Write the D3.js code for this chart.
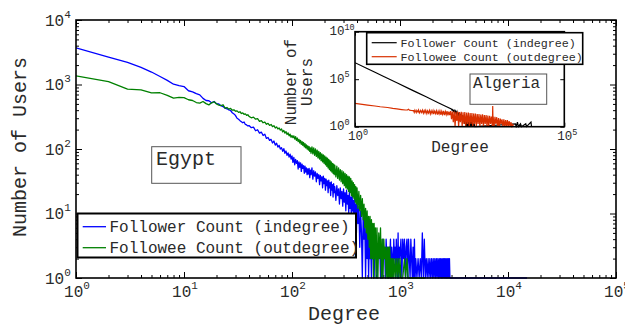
<!DOCTYPE html>
<html><head><meta charset="utf-8">
<script src="https://cdn.jsdelivr.net/npm/d3@7"></script>
<style>body{margin:0;background:#fff}svg{display:block}text{font-family:"Liberation Mono","Courier New",monospace;fill:#2a2a2a}</style>
</head><body>
<svg id="c" width="625" height="324"></svg>
<script>
// ---------- DATA ----------
const seriesNames = ["Follower Count (indegree)", "Followee Count (outdegree)"];
const mainXExp = [0,1,2,3,4,5];
const mainYExp = [0,1,2,3,4];
const insetXExp = [0,5];
const insetYExp = [0,5,10];
const mainTitle = "Egypt";
const insetTitle = "Algeria";

// Egypt follower (indegree): [degree, users]
const egyptFollower = [
[1,3700],[2,2650],[3,2200],[4,1840],[5,1560],[6,1330],[7,1160],[8,1010],[9,960],[10,930],[11,800],[12,770],[13,720],[14,690],[15,610],[16,565],[17,560],[18,520],[19,545],[20,505],[21,500],[22,470],[23,455],[24,430],[25,420],[26,405],[27,395],[28,365],[29,350],[30,330],[31,300],[32,290],[33,275],[34,265],[35,255],[36,262],[37,240],[38,236],[39,228],[40,231],
[42,214],[44,218],[46,192],[48,199],[50,176],[52,183],[54,162],[56,170],[58,146],[60,151],[62,136],[64,141],[66,124],[68,133],[70,115],[72,123],[74,107],[76,114],[78,100],[80,105],[82,92],[84,101],[86,86],[88,93],[90,80],[92,87],[94,75],[96,83],[98,70],[100,78],
[102,62],[104,74],[106,57],[108,69],[110,60],[112,66],[114,49],[116,63],[118,52],[120,61],[122,45],[124,58],[126,50],[128,55],[130,42],[132,54],[134,44],[136,51],[138,40],[140,49],[142,41],[144,50],[146,36],[148,47],[150,40],
[153,51],[156,34],[159,46],[162,38],[165,44],[168,31],[171,42],[174,35],[177,40],[180,28],[183,39],[186,32],[189,37],[192,25],[195,38],[198,29],[201,35],[204,23],[207,34],[210,27],[213,32],[216,21],[219,33],[222,25],[225,30],[228,19],[231,31],[234,23],[237,28],[240,18],[243,29],[246,21],[249,26],
[255,16],[260,27],[265,19],[270,24],[275,14],[280,25],[285,17],[290,22],[295,13],[300,24],[305,15],[310,21],[315,11],[320,23],[325,14],[330,19],[335,10],[340,22],[345,12],[350,18],[355,8],[360,20],[365,11],[370,16],[375,7],[380,17],[385,9],[390,14],[395,5],[400,16],
[408,7],[416,13],[424,3],[432,11],[440,5],[448,1],[456,10],[464,4],[472,8],[480,1],[488,6],[496,2],[504,5],[512,1],[520,4],[528,2],[536,3],[544,1],[552,4],[560,2],[568,5],[576,1],[584,3],[592,2],[600,4],
[612,1],[624,3],[636,2],[648,4],[660,1],[672,3],[684,1],[696,4],[708,2],[720,3],[732,1],[744,4],[756,2],[768,3],[780,1],[792,3],[804,2],[816,4],[828,1],[840,3],[852,2],[864,1],[876,4],[888,2],[900,3],[912,1],[924,4],[936,2],[948,1],[960,5],[972,1],[984,3],[996,2],
[1020,4],[1040,1],[1060,4],[1080,2],[1100,4],[1120,1],[1140,3],[1160,4],[1180,1],[1200,4],[1220,2],[1240,1],[1260,4],[1280,2],[1300,1],[1320,3],[1340,1],[1360,4],[1380,1],[1400,2],
[1435,1],[1470,2],[1505,1],[1540,2],[1575,1],[1610,5],[1645,1],[1680,4],[1715,1],[1750,2],[1785,1],[1820,2],[1855,1],[1890,2],[1925,1],[1960,2],[1995,1],[2030,2],[2065,1],[2100,2],[2135,1],[2170,2],[2205,1],[2240,2],[2275,1],[2310,2],[2345,1],[2380,2],[2415,1],[2450,2],[2485,1],[2520,2],[2555,1],[2590,2],[2625,1],[2660,2],[2695,1],[2730,2],[2765,1],[2800,2],[2835,1],[2870,2],[2900,1],[3500,1],[5200,1],[9000,1],[15000,1]
];

// Egypt followee (outdegree)
const egyptFollowee = [
[1,1360],[2,1110],[3,850],[4,826],[5,740],[6,745],[7,680],[8,614],[9,630],[10,625],[11,580],[12,565],[13,525],[14,514],[15,545],[16,505],[17,483],[18,520],[19,540],[20,500],[21,480],[22,470],[23,485],[24,430],[25,440],[26,415],[27,425],[28,400],[29,405],[30,385],[31,390],[32,370],[33,378],[34,355],[35,362],[36,345],[37,350],[38,332],[39,340],[40,320],
[42,305],[44,312],[46,290],[48,296],[50,268],[52,276],[54,255],[56,262],[58,242],[60,250],[62,232],[64,240],[66,222],[68,230],[70,212],[72,220],[74,204],[76,212],[78,196],[80,204],[82,184],[84,194],[86,176],[88,186],[90,168],[92,178],[94,160],[96,170],[98,152],[100,162],
[102,150],[104,160],[106,142],[108,155],[110,136],[112,148],[114,130],[116,141],[118,124],[120,136],[122,118],[124,130],[126,114],[128,126],[130,108],[132,121],[134,104],[136,116],[138,100],[140,112],[142,96],[144,109],[146,92],[148,104],[150,86],
[153,108],[156,84],[159,104],[162,80],[165,100],[168,77],[171,96],[174,73],[177,92],[180,70],[183,88],[186,66],[189,84],[192,63],[195,81],[198,60],[201,78],[204,57],[207,75],[210,54],[213,72],[216,51],[219,69],[222,48],[225,66],[228,46],[231,63],[234,44],[237,60],[240,42],[243,58],[246,40],[249,56],
[255,37],[260,54],[265,35],[270,51],[275,33],[280,48],[285,31],[290,46],[295,29],[300,44],[305,27],[310,42],[315,25],[320,40],[325,24],[330,38],[335,22],[340,37],[345,21],[350,35],[355,19],[360,32],[365,18],[370,30],[375,17],[380,28],[385,15],[390,26],[395,14],[400,25],
[408,12],[416,22],[424,11],[432,19],[440,9],[448,17],[456,8],[464,14],[472,6],[480,12],[488,5],[496,11],[504,4],[512,9],[520,3],[528,9],[536,2],[544,8],[552,2],[560,7],[568,1],[576,7],[584,2],[592,6],[600,1],
[612,6],[624,1],[636,5],[648,2],[660,6],[672,1],[684,4],[696,1],[708,4],[720,2],[732,3],[744,1],[756,3],[768,1],[780,3],[792,1],[804,3],[816,1],[828,2],[840,1],[852,2],[864,1],[880,2],[900,1],[920,2],[940,1],[960,2],[980,1],[1000,2],[1020,1],[1060,1],[1100,2],[1130,1],[1160,2],[1190,1],[1300,1],[1450,1],[1700,1]
];

// Algeria follower (indegree)
const algeriaFollower = [
[1,5.5e6],[2,1.26e6],[3,5.4e5],[5,1.8e5],[10,4.2e4],[20,9600],[30,4100],[50,1400],[100,316],[150,135],[200,73],
[208,55],[216,64],[225,40],[234,52],[243,30],[253,44],[263,22],[273,36],[284,15],[296,30],[308,11],[320,24],[333,8],[346,20],[360,5],[374,16],[389,3],[405,13],[421,2],[438,10],[455,1],[474,8],[493,1],[512,6],[533,1],[554,5],[576,1],[599,4],[623,1],[648,3],[674,1],[701,2],[729,1],[760,1],
[6800,2],[7100,1],[7600,3],[8000,1],[9000,2],[9500,1],[12000,2],[12500,1],[16000,3],[16500,1]
];

// Algeria followee (outdegree)
const algeriaFollowee = [
[1,290],[2,190],[3,150],[4,125],[6,105],[8,85],[10,75],[13,64],[16,57],[18,60],[19,70],[20,55],[22,52],[24,50],
[25,50],[26,32],[27,56],[29,30],[30,52],[32,34],[33,57],[35,28],[37,50],[39,31],[41,55],[43,26],[45,49],[47,29],[49,54],[52,24],[54,47],[57,27],[60,52],[63,22],[66,46],[69,25],[73,50],[76,21],[80,44],[84,24],[88,48],[93,19],[97,42],[102,22],[107,47],[113,18],[118,41],[124,20],[130,45],[137,17],[144,40],[151,19],[158,44],[166,16],[175,38],[183,17],[193,43],[202,6],[212,40],[223,3],[234,41],[246,1],[258,36],[271,4],[284,39],[299,1],[314,34],[329,3],[346,37],[363,1],[381,32],[400,2],[420,35],[441,1],[463,30],[486,2],[511,31],[536,1],[563,27],[591,2],[621,28],[652,1],[684,25],[719,2],[755,24],[792,1],[832,22],[873,2],[917,21],[963,1],[1011,19],[1061,2],[1114,20],[1170,1],[1229,17],[1290,2],[1355,17],[1422,1],[1493,15],[1568,1],[1647,14],[1729,2],[1815,12],[1906,1],[1950,150],[1990,1],[2001,12],[2101,1],[2206,11],[2316,2],[2432,10],[2554,1],[2681,8],[2815,1],[2956,7],[3104,2],[3259,6],[3422,1],[3593,6],[3773,1],[3962,5],[4160,1],[4368,5],[4586,1],[4815,4],[5056,1],[5309,3],[5600,1],[5900,2],[6000,1]
];

// ---------- DRAW ----------
const svg = d3.select("#c");
const P = {l:76, r:616, t:20, b:278};
const x = d3.scaleLog().domain([1,1e5]).range([P.l,P.r]);
const y = d3.scaleLog().domain([1,1e4]).range([P.b,P.t]);

function minorVals(lo, hi){ const v=[]; for(let e=lo;e<hi;e++) for(let k=2;k<10;k++) v.push(k*Math.pow(10,e)); return v; }
function tickAxis(gen, scale, vals, len, tr){
  svg.append("g").attr("transform", tr)
    .call(gen(scale).tickValues(vals).tickSizeInner(-len).tickSizeOuter(0).tickFormat(""))
    .call(g=>g.select(".domain").remove())
    .selectAll("line").attr("stroke","#000").attr("stroke-width",1);
}
function powText(g, px, py, exp, fs, sfs, anchor, dy){
  const t = g.append("text").attr("x",px).attr("y",py).attr("font-size",fs).attr("text-anchor",anchor);
  t.append("tspan").text("10");
  t.append("tspan").attr("font-size",sfs).attr("dy",dy).text(exp);
  return t;
}

// main ticks
const xMaj = mainXExp.map(e=>Math.pow(10,e)), yMaj = mainYExp.map(e=>Math.pow(10,e));
const xMin = minorVals(0,5), yMin = minorVals(0,4);
[[d3.axisBottom,`translate(0,${P.b})`],[d3.axisTop,`translate(0,${P.t})`]].forEach(([gen,tr])=>{
  tickAxis(gen,x,xMin,3,tr); tickAxis(gen,x,xMaj,6,tr);
});
[[d3.axisLeft,`translate(${P.l},0)`],[d3.axisRight,`translate(${P.r},0)`]].forEach(([gen,tr])=>{
  tickAxis(gen,y,yMin,3,tr); tickAxis(gen,y,yMaj,6,tr);
});

// data lines (main)
svg.append("clipPath").attr("id","clipMain").append("rect")
  .attr("x",P.l).attr("y",P.t-1).attr("width",P.r-P.l).attr("height",P.b-P.t+2);
const line = d3.line().x(d=>x(d[0])).y(d=>y(d[1]));
const gl = svg.append("g").attr("clip-path","url(#clipMain)");
gl.append("path").datum(egyptFollower).attr("d",line).attr("fill","none").attr("stroke","#0000ff").attr("stroke-width",1.3).attr("stroke-linejoin","round");
gl.append("path").datum(egyptFollowee).attr("d",line).attr("fill","none").attr("stroke","#008000").attr("stroke-width",1.3).attr("stroke-linejoin","round");

// frame
svg.append("rect").attr("x",P.l).attr("y",P.t).attr("width",P.r-P.l).attr("height",P.b-P.t)
  .attr("fill","none").attr("stroke","#000").attr("stroke-width",1.6);

// tick labels main
const gt = svg.append("g");
mainXExp.forEach(e=>powText(gt, x(Math.pow(10,e))+1, 297, e, 16, 11, "middle", -8));
mainYExp.forEach(e=>powText(gt, 45, y(Math.pow(10,e))+5.5, e, 16, 11, "start", -8));

// axis labels
svg.append("text").attr("x",344).attr("y",319.5).attr("font-size",20).attr("text-anchor","middle").text("Degree");
svg.append("text").attr("transform","translate(25.5,147) rotate(-90)").attr("font-size",20).attr("text-anchor","middle").text("Number of Users");

// main legend
const lg = svg.append("g");
lg.append("rect").attr("x",77.5).attr("y",213.5).attr("width",278.5).attr("height",44).attr("fill","#fff").attr("stroke","#000").attr("stroke-width",2);
[["#0000ff",226.7],["#008000",247.7]].forEach(([c,yy],i)=>{
  lg.append("line").attr("x1",82.7).attr("x2",106).attr("y1",yy).attr("y2",yy).attr("stroke",c).attr("stroke-width",1.3);
  lg.append("text").attr("x",109.5).attr("y",yy+4.8).attr("font-size",16).text(seriesNames[i]);
});

// Egypt box
svg.append("rect").attr("x",151.7).attr("y",146.7).attr("width",89.3).attr("height",36.6).attr("fill","#fff").attr("stroke","#555").attr("stroke-width",1);
svg.append("text").attr("x",156).attr("y",165).attr("font-size",20).text(mainTitle);

// ---------- INSET ----------
const I = {l:355, r:564.3, t:31.7, b:126.7};
const ix = d3.scaleLog().domain([1,1e5]).range([I.l,I.r]);
const iy = d3.scaleLog().domain([1,1e10]).range([I.b,I.t]);
svg.append("rect").attr("x",I.l).attr("y",I.t).attr("width",I.r-I.l).attr("height",I.b-I.t).attr("fill","#fff");
svg.append("clipPath").attr("id","clipInset").append("rect")
  .attr("x",I.l).attr("y",I.t).attr("width",I.r-I.l).attr("height",I.b-I.t+1);
const iline = d3.line().x(d=>ix(d[0])).y(d=>iy(d[1]));
const gi = svg.append("g").attr("clip-path","url(#clipInset)");
gi.append("path").datum(algeriaFollower).attr("d",iline).attr("fill","none").attr("stroke","#000").attr("stroke-width",1.2);
gi.append("path").datum(algeriaFollowee).attr("d",iline).attr("fill","none").attr("stroke","#d93000").attr("stroke-width",1.2);
// inset ticks
const iyMaj = insetYExp.map(e=>Math.pow(10,e)), ixMaj = insetXExp.map(e=>Math.pow(10,e));
tickAxis(d3.axisLeft, iy, iyMaj, 4, `translate(${I.l},0)`);
tickAxis(d3.axisRight, iy, iyMaj, 4, `translate(${I.r},0)`);
tickAxis(d3.axisBottom, ix, ixMaj, 4, `translate(0,${I.b})`);
tickAxis(d3.axisTop, ix, ixMaj, 4, `translate(0,${I.t})`);
svg.append("rect").attr("x",I.l).attr("y",I.t).attr("width",I.r-I.l).attr("height",I.b-I.t)
  .attr("fill","none").attr("stroke","#000").attr("stroke-width",1.6);
const git = svg.append("g");
insetYExp.forEach(e=>powText(git, 329.5, iy(Math.pow(10,e))+3.5, e, 12.5, 8.5, "start", -5.5));
insetXExp.forEach(e=>powText(git, ix(Math.pow(10,e))+3, 140, e, 12.5, 8.5, "middle", -5.5));
svg.append("text").attr("x",460).attr("y",151.5).attr("font-size",16).attr("text-anchor","middle").text("Degree");
const iyl = svg.append("text").attr("transform","translate(295.5,82) rotate(-90)").attr("font-size",16).attr("text-anchor","middle");
iyl.append("tspan").attr("x",0).attr("dy",0).text("Number of");
iyl.append("tspan").attr("x",0).attr("dy",16.5).text("Users");
// inset legend
const il = svg.append("g");
il.append("rect").attr("x",366.7).attr("y",32.7).attr("width",216).attr("height",31.6).attr("fill","#fff").attr("stroke","#000").attr("stroke-width",1.6);
[["#000",42.7],["#d93000",56.7]].forEach(([c,yy],i)=>{
  il.append("line").attr("x1",371.7).attr("x2",396.7).attr("y1",yy).attr("y2",yy).attr("stroke",c).attr("stroke-width",1.2);
  il.append("text").attr("x",400.5).attr("y",yy+3.8).attr("font-size",11.7).text(seriesNames[i]);
});
// Algeria box
svg.append("rect").attr("x",470).attr("y",74).attr("width",76.7).attr("height",30.3).attr("fill","#fff").attr("stroke","#555").attr("stroke-width",1);
svg.append("text").attr("x",473).attr("y",88).attr("font-size",16).text(insetTitle);
</script>
</body></html>
